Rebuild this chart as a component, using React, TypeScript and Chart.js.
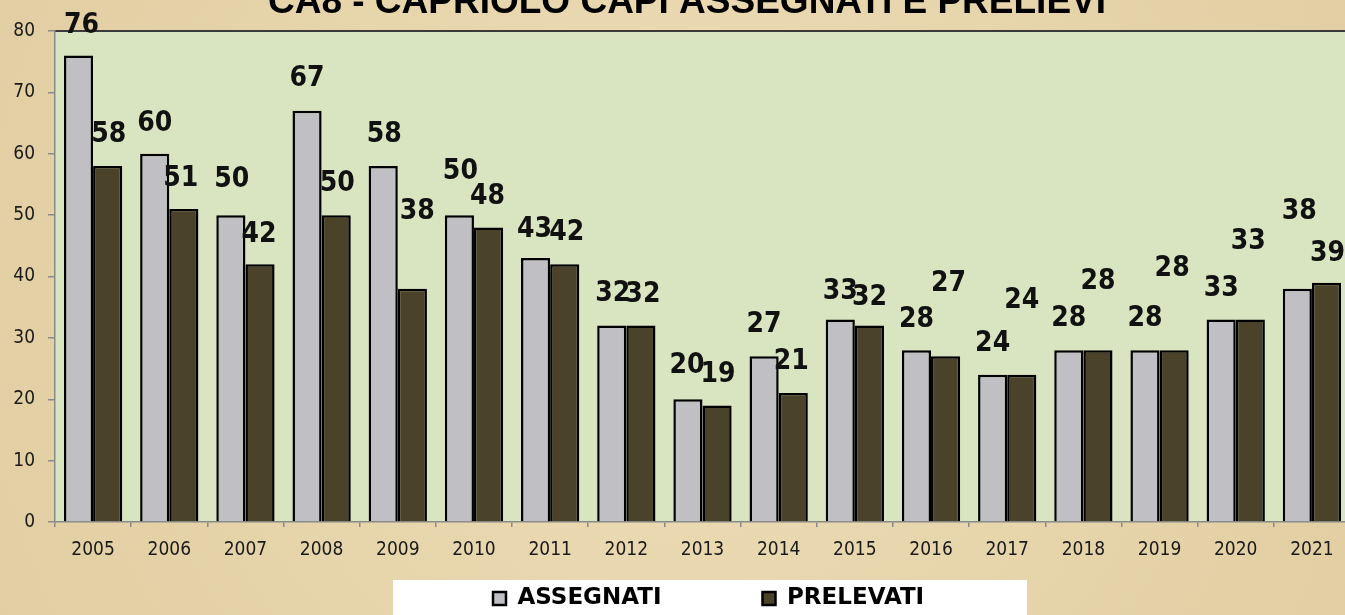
import React, { useEffect, useRef } from "react";
import { Chart, registerables } from "chart.js";

Chart.register(...registerables);

const years = ["2005","2006","2007","2008","2009","2010","2011","2012","2013","2014","2015","2016","2017","2018","2019","2020","2021"];
const assegnati = [76, 60, 50, 67, 58, 50, 43, 32, 20, 27, 33, 28, 24, 28, 28, 33, 38];
const prelevati = [58, 51, 42, 50, 38, 48, 42, 32, 19, 21, 32, 27, 24, 28, 28, 33, 39];
const yTicks = [0, 10, 20, 30, 40, 50, 60, 70, 80];
const titleText = "CA8 - CAPRIOLO CAPI ASSEGNATI E PRELIEVI";
const seriesNames = ["ASSEGNATI", "PRELEVATI"];

// label placement offsets (pixels, relative to bar top centre) as in the original slide
const assegnatiLabelDx = [3, 0, 1, 0, 1, 1, -1, 1, -1, 0, 0, 0, 0, 0, 0, 0, 2];
const assegnatiLabelDy = [-30, -30, -35, -32, -31, -43, -28, -32, -34, -32, -28, -30, -31, -31, -31, -31, -77];
const prelevatiLabelDx = [1, -3, -1, 1, 5, -1, 2, 2, 1, -2, 0, 3, 0, 0, -2, -2, 1];
const prelevatiLabelDy = [-31, -30, -30, -31, -77, -31, -32, -31, -31, -31, -28, -73, -74, -68, -81, -78, -29];

const W = 1350;
const H = 615;
const COND = '"DejaVu Sans Condensed", "DejaVu Sans", sans-serif';

export default function App() {
  const ref = useRef<HTMLCanvasElement | null>(null);

  useEffect(() => {
    document.documentElement.style.overflow = "hidden";
    const canvas = ref.current;
    if (!canvas) return;

    const offsets = [
      { dx: assegnatiLabelDx, dy: assegnatiLabelDy },
      { dx: prelevatiLabelDx, dy: prelevatiLabelDy },
    ];

    const bgPlugin = {
      id: "bg",
      beforeDraw(chart: any) {
        const { ctx, chartArea } = chart;
        ctx.save();
        const g = ctx.createRadialGradient(W * 0.5, H * 0.45, 50, W * 0.5, H * 0.5, W * 0.7);
        g.addColorStop(0, "#ecdcb6");
        g.addColorStop(1, "#dfca9c");
        ctx.fillStyle = g;
        ctx.fillRect(0, 0, W, H);
        ctx.fillStyle = "#d9e4c0";
        ctx.fillRect(chartArea.left, chartArea.top, chartArea.right - chartArea.left, chartArea.bottom - chartArea.top);
        ctx.strokeStyle = "#3a3a3a";
        ctx.lineWidth = 2;
        ctx.beginPath();
        ctx.moveTo(chartArea.left, chartArea.top);
        ctx.lineTo(chartArea.right, chartArea.top);
        ctx.stroke();
        // legend white panel
        ctx.fillStyle = "#ffffff";
        ctx.fillRect(393, 580, 634, 40);
        ctx.restore();
      },
    };

    const placeBoxes = {
      id: "placeBoxes",
      afterLayout(chart: any) {
        const lg = chart.legend;
        if (lg) {
          const pad = lg.options.labels.padding;
          lg.left = 493 - pad;
          lg.right = lg.left + 2000;
          lg.top = 587 - pad;
        }
        const tb = chart.titleBlock;
        if (tb) {
          tb.left += 12;
          tb.right += 12;
        }
      },
    };

    const labelPlugin = {
      id: "barLabels",
      afterDatasetsDraw(chart: any) {
        const ctx = chart.ctx;
        ctx.save();
        ctx.font = `bold 28px ${COND}`;
        ctx.fillStyle = "#111111";
        ctx.textAlign = "center";
        ctx.textBaseline = "middle";
        chart.data.datasets.forEach((ds: any, di: number) => {
          const meta = chart.getDatasetMeta(di);
          meta.data.forEach((bar: any, i: number) => {
            const p = bar.getProps(["x", "y"], true);
            ctx.fillText(String(ds.data[i]), p.x + offsets[di].dx[i], p.y + offsets[di].dy[i]);
          });
        });
        ctx.restore();
      },
    };

    const chart = new Chart(canvas, {
      type: "bar",
      data: {
        labels: years,
        datasets: [
          {
            label: seriesNames[0],
            data: assegnati,
            backgroundColor: "#c0c0c4",
            borderColor: "#000000",
            borderWidth: 2.5,
            categoryPercentage: 0.765,
            barPercentage: 1,
          },
          {
            label: seriesNames[1],
            data: prelevati,
            backgroundColor: "#4a4229",
            borderColor: "#000000",
            borderWidth: 2.5,
            categoryPercentage: 0.765,
            barPercentage: 1,
          },
        ],
      },
      options: {
        responsive: false,
        animation: false,
        layout: { padding: 0 },
        plugins: {
          title: {
            display: true,
            text: titleText,
            color: "#000000",
            font: { family: '"Liberation Sans", Arial, sans-serif', size: 37, weight: "bold" },
            padding: { top: -19, bottom: 5.6 },
          },
          legend: {
            display: true,
            position: "bottom",
            align: "start",
            maxHeight: 40,
            labels: {
              color: "#000000",
              font: { family: '"DejaVu Sans", sans-serif', size: 23, weight: "bold" },
              boxWidth: 13,
              boxHeight: 13,
              padding: 101,
            },
          },
          tooltip: { enabled: false },
        },
        scales: {
          x: {
            offset: true,
            grid: {
              offset: true,
              drawOnChartArea: false,
              tickLength: 5,
              color: "#8a8a8a",
              lineWidth: 1.5,
            },
            border: { color: "#8a8a8a", width: 1.5 },
            ticks: {
              color: "#1a1a1a",
              font: { family: COND, size: 19 },
              padding: 12,
              maxRotation: 0,
              autoSkip: false,
            },
            afterFit(scale: any) {
              scale.height = 53;
            },
          },
          y: {
            min: 0,
            max: 80,
            afterBuildTicks(scale: any) {
              scale.ticks = yTicks.map((v) => ({ value: v }));
            },
            grid: {
              drawOnChartArea: false,
              tickLength: 7,
              color: "#8a8a8a",
              lineWidth: 1.5,
            },
            border: { color: "#8a8a8a", width: 1.5 },
            ticks: {
              color: "#1a1a1a",
              font: { family: COND, size: 19 },
              padding: 13,
            },
            afterFit(scale: any) {
              scale.width = 55;
            },
          },
        },
      },
      plugins: [bgPlugin, placeBoxes, labelPlugin],
    });

    return () => {
      chart.destroy();
    };
  }, []);

  return (
    <div style={{ position: "fixed", left: 0, top: 0, width: W, height: H }}>
      <canvas ref={ref} width={W} height={H} style={{ display: "block" }} />
    </div>
  );
}
